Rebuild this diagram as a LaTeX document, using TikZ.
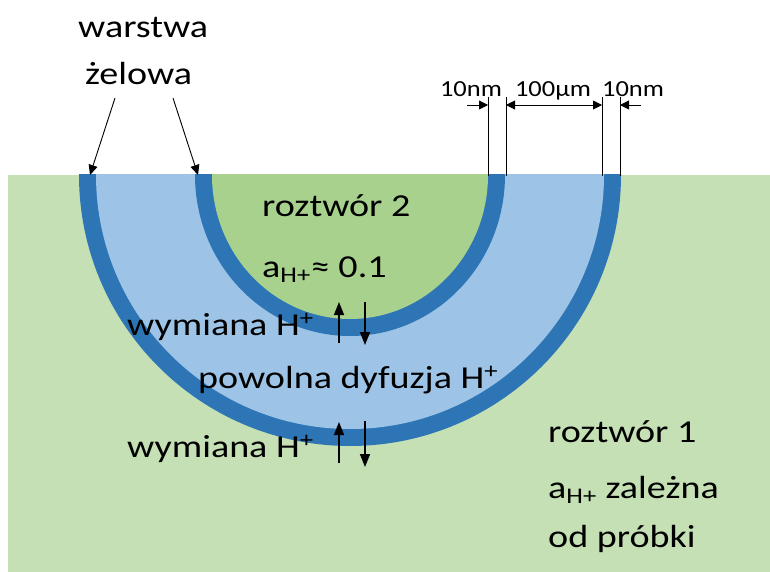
\documentclass[tikz,border=0pt]{standalone}
\usepackage{fontspec}
\setmainfont{Carlito}
\usetikzlibrary{arrows.meta}
\definecolor{lgreen}{HTML}{C5E0B4}
\definecolor{mgreen}{HTML}{A9D18E}
\definecolor{lblue}{HTML}{9DC3E6}
\definecolor{dblue}{HTML}{2E75B6}
\newcommand\sxw[1]{\scalebox{1.19}[1]{#1}}
\newcommand\sxs[1]{\scalebox{1.15}[1]{#1}}
\tikzset{
  lbl/.style={inner sep=0pt, anchor=base west, font=\fontsize{32}{38}\selectfont},
  dimlbl/.style={inner sep=0pt, anchor=base, font=\fontsize{23}{27}\selectfont},
  dimline/.style={line width=0.9pt},
  dimarrow/.style={line width=0.9pt, -{Triangle[length=9pt,width=9pt]}},
  ptr/.style={line width=0.9pt, -{Triangle[length=10pt,width=9pt]}},
  flux/.style={line width=1.5pt, -{Triangle[length=13pt,width=10pt]}}
}
\begin{document}
\begin{tikzpicture}[x=1pt,y=-1pt]
\useasboundingbox (0,0) rectangle (770,572);
\fill[lgreen] (8,175) rectangle (770,572);
\coordinate (c) at (350,175);
\begin{scope}
\clip (0,175) rectangle (770,572);
\fill[dblue] (c) circle[radius=271pt];
\fill[lblue] (c) circle[radius=254pt];
\fill[dblue] (c) ellipse[x radius=155pt, y radius=161pt];
\fill[mgreen] (c) ellipse[x radius=138pt, y radius=144pt];
\end{scope}
% warstwa zelowa
\node[lbl] (w1) at (78,38) {\sxw{warstwa}};
\node[lbl] (w2) at (85,85) {\sxw{żelowa}};
\coordinate (p1s) at (115,98);
\coordinate (p1e) at (90,175);
\coordinate (p2s) at (173,98);
\coordinate (p2e) at (198,175);
\draw[ptr] (p1s) -- (p1e);
\draw[ptr] (p2s) -- (p2e);
% dimensions
\coordinate (v1t) at (488,97); \coordinate (v1b) at (488,176);
\coordinate (v2t) at (506,97); \coordinate (v2b) at (506,176);
\coordinate (v3t) at (602,97); \coordinate (v3b) at (602,176);
\coordinate (v4t) at (620,97); \coordinate (v4b) at (620,176);
\draw[dimline] (v1t) -- (v1b);
\draw[dimline] (v2t) -- (v2b);
\draw[dimline] (v3t) -- (v3b);
\draw[dimline] (v4t) -- (v4b);
\coordinate (a1s) at (467,105); \coordinate (a1e) at (488,105);
\coordinate (a2s) at (506,105); \coordinate (a2e) at (602,105);
\coordinate (a3s) at (641,105); \coordinate (a3e) at (620,105);
\draw[dimarrow] (a1s) -- (a1e);
\draw[dimline, {Triangle[length=9pt,width=9pt]}-{Triangle[length=9pt,width=9pt]}] (a2s) -- (a2e);
\draw[dimarrow] (a3s) -- (a3e);
\node[dimlbl] (d1) at (471,97) {\sxs{10nm}};
\node[dimlbl] (d2) at (553,97) {\sxs{100µm}};
\node[dimlbl] (d3) at (633,97) {\sxs{10nm}};
% inner solution
\node[lbl] (r2) at (262,216) {\sxw{roztwór 2}};
\node[lbl] (a2) at (262,277) {\sxw{a\textsubscript{H+}≈ 0.1}};
% exchanges
\node[lbl] (x1) at (127,335) {\sxw{wymiana H\textsuperscript{+}}};
\node[lbl] (pd) at (198,388) {\sxw{powolna dyfuzja H\textsuperscript{+}}};
\node[lbl] (x2) at (127,457) {\sxw{wymiana H\textsuperscript{+}}};
\coordinate (u1s) at (339,343); \coordinate (u1e) at (339,302);
\coordinate (d1s) at (365,302); \coordinate (d1e) at (365,345);
\coordinate (u2s) at (339,463); \coordinate (u2e) at (339,422);
\coordinate (d2s) at (365,421); \coordinate (d2e) at (365,467);
\draw[flux] (u1s) -- (u1e);
\draw[flux] (d1s) -- (d1e);
\draw[flux] (u2s) -- (u2e);
\draw[flux] (d2s) -- (d2e);
% outer solution
\node[lbl] (r1) at (548,442) {\sxw{roztwór 1}};
\node[lbl] (a1) at (548,498) {\sxw{a\textsubscript{H+} zależna}};
\node[lbl] (op) at (548,547) {\sxw{od próbki}};
\end{tikzpicture}
\end{document}
